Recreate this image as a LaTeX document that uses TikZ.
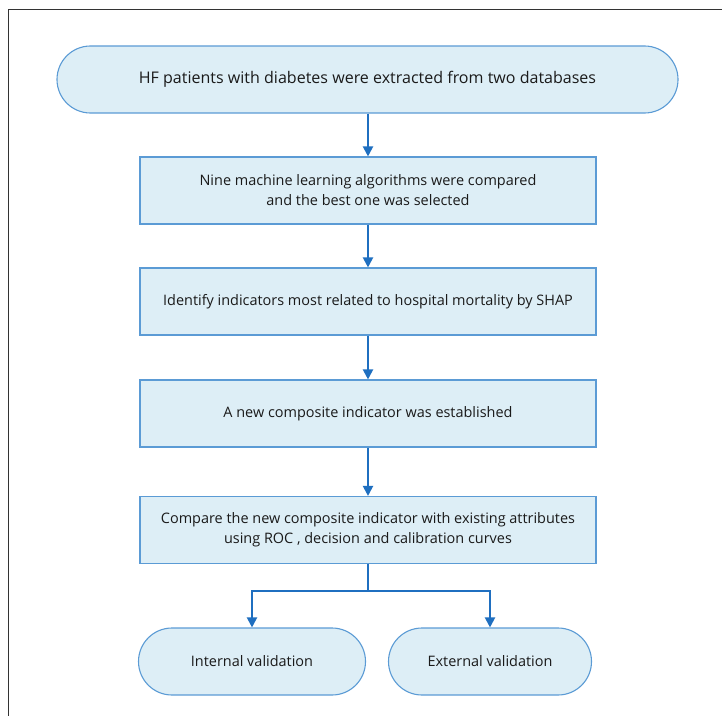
\documentclass[tikz,border=0pt]{standalone}
\usepackage{fontspec}
\setmainfont{Open Sans}
\usetikzlibrary{arrows.meta,shapes.misc}
\definecolor{boxfill}{HTML}{DDEEF6}
\definecolor{boxline}{HTML}{5B9BD5}
\definecolor{arrowc}{HTML}{1F6FC0}
\definecolor{framec}{HTML}{333333}
\definecolor{textc}{HTML}{1A1A1A}
\begin{document}
\begin{tikzpicture}[x=1bp,y=-1bp,
  every node/.style={font=\fontsize{14.5}{20}\selectfont, text=textc, align=center, inner sep=0pt},
  term/.style={rounded rectangle, draw=boxline, fill=boxfill, line width=1.1bp, minimum height=67bp},
  stepbox/.style={rectangle, draw=boxline, fill=boxfill, line width=1.1bp, minimum width=456bp, minimum height=67bp},
  conn/.style={draw=arrowc, line width=2bp, -{Triangle[width=10bp,length=10bp]}},
  connplain/.style={draw=arrowc, line width=2bp}]
\useasboundingbox (0,0) rectangle (722,716);
\draw[framec, line width=1.3bp] (8.5,716) -- (8.5,9.5) -- (722,9.5);
\node[term, minimum width=621bp, font=\fontsize{16.1}{20}\selectfont] (start) at (367.5,79.5) {HF patients with diabetes were extracted from two databases};
\node[stepbox] (s1) at (368,190.5) {Nine machine learning algorithms were compared\\and the best one was selected};
\node[stepbox] (s2) at (368,301.5) {Identify indicators most related to hospital mortality by SHAP};
\node[stepbox] (s3) at (368,413.5) {A new composite indicator was established};
\node[stepbox] (s4) at (368,530) {Compare the new composite indicator with existing attributes\\using ROC , decision and calibration curves};
\node[term, minimum width=227bp] (iv) at (252,661.5) {Internal validation};
\node[term, minimum width=203bp] (ev) at (490,661.5) {External validation};
\coordinate (split) at (368,591);
\draw[conn] (start.south -| s1.north) -- (s1.north);
\draw[conn] (s1) -- (s2);
\draw[conn] (s2) -- (s3);
\draw[conn] (s3) -- (s4);
\draw[connplain] (s4.south) -- (split);
\draw[conn] (split) -| (iv.north);
\draw[conn] (split) -| (ev.north);
\end{tikzpicture}
\end{document}
